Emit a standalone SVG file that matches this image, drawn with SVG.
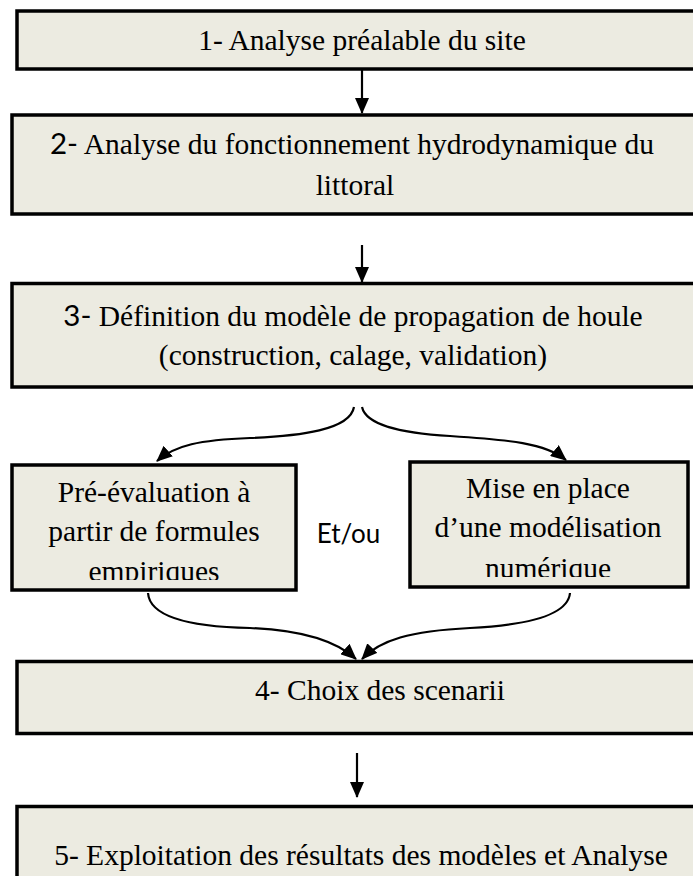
<svg xmlns="http://www.w3.org/2000/svg" width="693" height="876" viewBox="0 0 693 876">
<style>
.box{fill:#ECEBE1;stroke:#000;stroke-width:3.5}
.t{font-family:"Liberation Serif","Times New Roman",serif;font-size:29.5px;fill:#000;text-anchor:middle}
.s{font-family:Lato,"Open Sans",sans-serif}
.c{fill:none;stroke:#000;stroke-width:2.2}
</style>
<defs>
<marker id="ah" viewBox="0 0 16 14" refX="15" refY="7" markerWidth="16" markerHeight="14" markerUnits="userSpaceOnUse" orient="auto">
<path d="M0,0 L16,7 L0,14 Z" fill="#000"/>
</marker>
<clipPath id="clipL"><rect x="0" y="450" width="300" height="130"/></clipPath>
<clipPath id="clipR"><rect x="400" y="450" width="293" height="127"/></clipPath>
</defs>
<g id="n1">
<rect class="box" x="17" y="11" width="700" height="58"/>
<text class="t" x="362" y="50">1- Analyse préalable du site</text>
</g>
<g id="n2">
<rect class="box" x="12" y="115" width="700" height="99"/>
<text class="t" x="352" y="154"><tspan class="s">2-</tspan> Analyse du fonctionnement hydrodynamique du</text>
<text class="t" x="355" y="195">littoral</text>
</g>
<g id="n3">
<rect class="box" x="12" y="283.5" width="700" height="103.5"/>
<text class="t" x="353" y="326"><tspan class="s">3-</tspan> Définition du modèle de propagation de houle</text>
<text class="t" x="353" y="365">(construction, calage, validation)</text>
</g>
<g id="nL">
<rect class="box" x="12" y="465" width="284" height="125"/>
<g clip-path="url(#clipL)">
<text class="t" x="154" y="502">Pré-évaluation à</text>
<text class="t" x="154" y="541">partir de formules</text>
<text class="t" x="154" y="581">empiriques</text>
</g>
</g>
<g id="nR">
<rect class="box" x="410" y="462" width="278" height="125"/>
<g clip-path="url(#clipR)">
<text class="t" x="548" y="498">Mise en place</text>
<text class="t" x="548" y="537">d’une modélisation</text>
<text class="t" x="548" y="578">numérique</text>
</g>
</g>
<g id="etou">
<text x="348.5" y="543" font-family="Lato,'Open Sans',sans-serif" font-size="26" text-anchor="middle">Et/ou</text>
</g>
<g id="n4">
<rect class="box" x="17" y="661.5" width="700" height="72"/>
<text class="t" x="380" y="700">4- Choix des scenarii</text>
</g>
<g id="n5">
<rect class="box" x="17" y="806.5" width="700" height="100"/>
<text class="t" x="361" y="865">5- Exploitation des résultats des modèles et Analyse</text>
</g>
<g id="connectors">
<path class="c" d="M362,69 L362,113" marker-end="url(#ah)"/>
<path class="c" d="M362,245 L362,282" marker-end="url(#ah)"/>
<path class="c" d="M357,753 L357,797" marker-end="url(#ah)"/>
<path class="c" d="M354,407 C350,430 300,436 250,438 C200,440 175,445 157,461" marker-end="url(#ah)"/>
<path class="c" d="M362,407 C366,425 400,433 450,436 C510,440 545,443 566,460" marker-end="url(#ah)"/>
<path class="c" d="M148,593 C150,620 200,627 250,628 C300,630 335,640 356,659" marker-end="url(#ah)"/>
<path class="c" d="M570,593 C568,615 530,625 470,628 C410,631 380,640 362,659" marker-end="url(#ah)"/>
</g>
</svg>
